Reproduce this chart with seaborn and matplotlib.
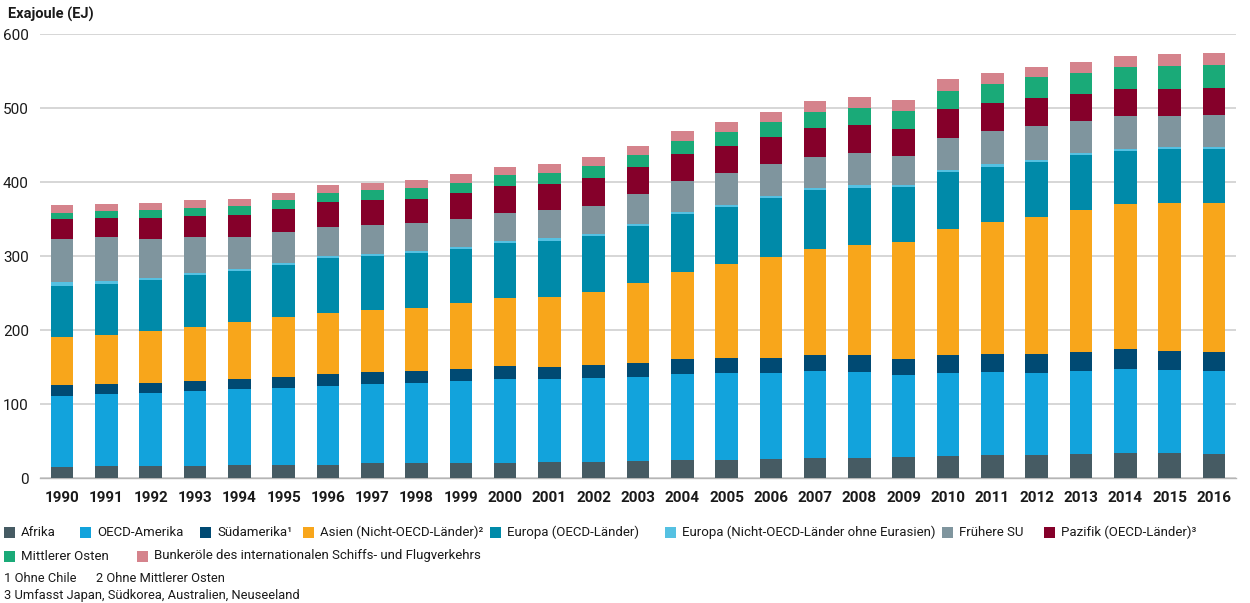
import numpy as np
import pandas as pd
import matplotlib
matplotlib.use("Agg")
import matplotlib.pyplot as plt
from matplotlib.patches import Rectangle
import seaborn as sns

# ---------------- data (EJ) ----------------
years = [str(y) for y in range(1990, 2017)]

afrika = [15.3, 16.2, 16.2, 16.2, 17.1, 18.0, 18.0, 19.8, 19.8, 20.7, 20.7, 21.6, 22.1, 23.4,
          24.3, 24.3, 25.7, 26.6, 27.5, 27.9, 29.3, 30.6, 30.6, 32.0, 33.8, 33.8, 32.9]
oecd_amerika = [95.9, 97.3, 99.1, 101.3, 102.7, 103.5, 106.3, 106.8, 108.2, 110.4, 113.1, 111.7, 112.6, 113.5,
                116.2, 118.0, 116.6, 118.4, 116.2, 110.8, 112.1, 112.2, 110.8, 112.6, 113.5, 112.1, 111.7]
suedamerika = [14.0, 13.0, 13.5, 14.0, 14.4, 15.0, 16.2, 16.6, 16.6, 16.6, 17.1, 17.2, 18.0, 19.0,
               19.9, 19.4, 20.3, 21.2, 22.5, 22.5, 24.8, 24.3, 25.7, 25.7, 26.6, 26.2, 25.7]
asien = [65.7, 66.7, 69.8, 73.0, 76.6, 80.5, 82.9, 83.8, 85.6, 89.2, 92.8, 94.5, 98.7, 107.2,
         118.0, 127.0, 136.1, 143.7, 148.7, 157.7, 170.7, 179.3, 186.0, 191.8, 196.8, 199.5, 201.8]
europa_oecd = [69.0, 68.9, 68.9, 69.8, 68.9, 71.0, 73.4, 73.0, 73.4, 72.1, 74.3, 75.7, 75.6, 77.4,
               77.9, 78.0, 79.2, 79.3, 77.4, 74.8, 77.0, 74.3, 74.4, 74.4, 71.2, 73.4, 72.9]
europa_nicht_oecd = [4.5, 3.6, 2.5, 2.2, 2.4, 3.0, 3.2, 3.3, 3.2, 3.1, 2.7, 3.2, 2.7, 2.8,
                     2.7, 2.7, 3.2, 3.1, 3.2, 2.7, 2.3, 3.2, 2.2, 2.2, 2.2, 2.3, 1.8]
fruehere_su = [58.6, 59.3, 53.4, 49.4, 43.0, 40.8, 39.6, 38.3, 37.4, 38.3, 37.8, 38.2, 38.3, 40.5,
               41.9, 42.3, 42.8, 41.9, 44.1, 39.2, 43.7, 45.0, 46.4, 44.2, 44.6, 41.9, 43.7]
pazifik = [27.0, 26.8, 28.2, 28.6, 30.5, 32.0, 33.4, 34.7, 33.4, 35.2, 36.1, 35.2, 37.0, 36.0,
           36.9, 37.0, 36.5, 38.1, 37.0, 36.0, 38.3, 37.4, 36.9, 36.5, 36.5, 36.9, 36.5]
mittlerer_osten = [8.6, 9.5, 10.3, 10.8, 11.7, 11.7, 12.6, 12.6, 13.9, 13.5, 14.4, 15.3, 16.6, 16.7,
                   18.1, 18.8, 21.0, 21.9, 23.4, 24.8, 25.2, 26.1, 28.4, 28.3, 30.6, 31.1, 30.6]
bunker = [10.3, 8.5, 9.5, 9.9, 9.9, 10.3, 10.3, 10.3, 11.3, 11.2, 11.0, 11.4, 11.7, 12.2,
          13.0, 13.1, 13.6, 15.3, 15.0, 14.4, 15.3, 15.3, 14.4, 14.9, 14.9, 15.8, 17.2]

series_labels = ["Afrika", "OECD-Amerika", "Südamerika¹", "Asien (Nicht-OECD-Länder)²",
                 "Europa (OECD-Länder)", "Europa (Nicht-OECD-Länder ohne Eurasien)",
                 "Frühere SU", "Pazifik (OECD-Länder)³", "Mittlerer Osten",
                 "Bunkeröle des internationalen Schiffs- und Flugverkehrs"]
yticks = [0, 100, 200, 300, 400, 500, 600]

series_values = [afrika, oecd_amerika, suedamerika, asien, europa_oecd, europa_nicht_oecd,
                 fruehere_su, pazifik, mittlerer_osten, bunker]
colors = ["#465b63", "#12a3dc", "#004a73", "#f8a61b", "#008aa9", "#55c1e2",
          "#7f959e", "#85002a", "#1aaa78", "#d5838c"]

# ---------------- figure ----------------
sns.set_theme(style="white")
plt.rcParams['font.family'] = ['Roboto', 'DejaVu Sans']

W, H = 1250, 603
fig = plt.figure(figsize=(W / 100, H / 100), dpi=100)
ax = fig.add_axes([40 / W, 1 - 478 / H, (1236 - 40) / W, (478 - 34) / H])

cum = np.cumsum(np.array(series_values), axis=0)
for i in reversed(range(len(series_values))):
    df = pd.DataFrame({"Jahr": years, "EJ": cum[i]})
    sns.barplot(data=df, x="Jahr", y="EJ", color=colors[i], width=0.51, saturation=1,
                errorbar=None, ax=ax, zorder=3, linewidth=0)

ax.set_xlim(-0.5, len(years) - 0.5)
ax.set_ylim(0, 600)
ax.set_yticks(yticks)
ax.yaxis.grid(True, color="#cfcfcf", linewidth=1.2, zorder=0)
ax.xaxis.grid(False)
ax.set_axisbelow(True)
for s in ["top", "right", "left"]:
    ax.spines[s].set_visible(False)
ax.spines["bottom"].set_color("#b5b5b5")
ax.spines["bottom"].set_linewidth(1.0)
ax.set_xlabel("")
ax.set_ylabel("")

ax.tick_params(axis="y", length=0, pad=8)
for lab in ax.get_yticklabels():
    lab.set_fontsize(11)
    lab.set_color("#1a1a1a")

ax.set_xticks(np.arange(-0.5, len(years), 1.0), minor=True)
ax.tick_params(axis="x", which="minor", length=12, width=1.0, color="#b5b5b5", direction="out")
ax.tick_params(axis="x", which="major", length=0, pad=9)
for lab in ax.get_xticklabels():
    lab.set_fontweight("bold")
    lab.set_fontsize(11)
    lab.set_color("#1a1a1a")

# axis title
fig.text(8 / W, 1 - 14 / H, "Exajoule (EJ)", fontsize=10.5, fontweight="bold",
         va="center", ha="left", color="#1a1a1a")

# legend (manual layout matching reference)
row1_x = [4, 80, 200, 303, 490, 665, 942, 1044]
row2_x = [4, 137]
positions = [(x, 532) for x in row1_x] + [(x, 556) for x in row2_x]
sq = 11
for (x, y), lab, c in zip(positions, series_labels, colors):
    fig.add_artist(Rectangle((x / W, 1 - (y + sq / 2) / H), sq / W, sq / H,
                             transform=fig.transFigure, facecolor=c, edgecolor="none"))
    fig.text((x + sq + 6) / W, 1 - y / H, lab, fontsize=9.5, va="center", ha="left",
             color="#1a1a1a")

# footnotes
fig.text(4 / W, 1 - 578 / H, "1 Ohne Chile", fontsize=9.3, va="center", ha="left", color="#1a1a1a")
fig.text(96 / W, 1 - 578 / H, "2 Ohne Mittlerer Osten", fontsize=9.3, va="center", ha="left", color="#1a1a1a")
fig.text(4 / W, 1 - 596 / H, "3 Umfasst Japan, Südkorea, Australien, Neuseeland", fontsize=9.3,
         va="center", ha="left", color="#1a1a1a")

fig.savefig("out.png", dpi=100)
